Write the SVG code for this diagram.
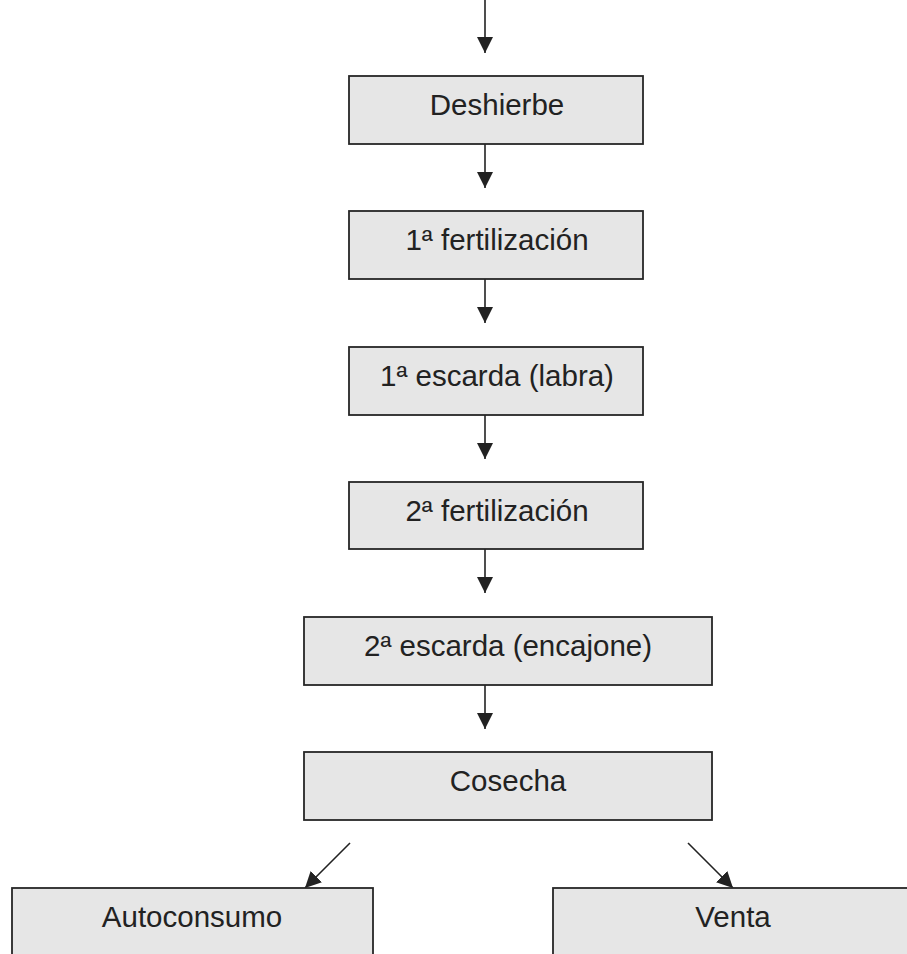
<svg xmlns="http://www.w3.org/2000/svg" width="907" height="954" viewBox="0 0 907 954">
<defs>
<style>
.box{fill:#e6e6e6;stroke:#262626;stroke-width:1.8}
.lbl{font-family:"Liberation Sans",Arial,sans-serif;font-size:29.5px;fill:#222;text-anchor:middle}
.conn{stroke:#222;stroke-width:1.6;fill:none;marker-end:url(#ah)}
</style>
<marker id="ah" markerUnits="userSpaceOnUse" markerWidth="16" markerHeight="16" viewBox="0 0 14 14" refX="14" refY="7" orient="auto">
<path d="M0,0 L14,7 L0,14 Z" fill="#222"/>
</marker>
</defs>
<rect width="907" height="954" fill="#ffffff"/>
<g id="connectors">
<line class="conn" x1="485" y1="0" x2="485" y2="53"/>
<line class="conn" x1="485" y1="144" x2="485" y2="188"/>
<line class="conn" x1="485" y1="279" x2="485" y2="323"/>
<line class="conn" x1="485" y1="415" x2="485" y2="459"/>
<line class="conn" x1="485" y1="549" x2="485" y2="593"/>
<line class="conn" x1="485" y1="685" x2="485" y2="729"/>
<line class="conn" x1="350" y1="843" x2="305" y2="888"/>
<line class="conn" x1="688" y1="843" x2="733" y2="888"/>
</g>
<g id="deshierbe">
<rect class="box" x="349" y="76" width="294" height="68"/>
<text class="lbl" x="497" y="115">Deshierbe</text>
</g>
<g id="fert1">
<rect class="box" x="349" y="211" width="294" height="68"/>
<text class="lbl" x="497" y="250">1ª fertilización</text>
</g>
<g id="escarda1">
<rect class="box" x="349" y="347" width="294" height="68"/>
<text class="lbl" x="497" y="386">1ª escarda (labra)</text>
</g>
<g id="fert2">
<rect class="box" x="349" y="482" width="294" height="67"/>
<text class="lbl" x="497" y="521">2ª fertilización</text>
</g>
<g id="escarda2">
<rect class="box" x="304" y="617" width="408" height="68"/>
<text class="lbl" x="508" y="656">2ª escarda (encajone)</text>
</g>
<g id="cosecha">
<rect class="box" x="304" y="752" width="408" height="68"/>
<text class="lbl" x="508" y="791">Cosecha</text>
</g>
<g id="autoconsumo">
<rect class="box" x="12" y="888" width="361" height="80"/>
<text class="lbl" x="192" y="927">Autoconsumo</text>
</g>
<g id="venta">
<rect class="box" x="553" y="888" width="361" height="80"/>
<text class="lbl" x="733" y="927">Venta</text>
</g>
</svg>
